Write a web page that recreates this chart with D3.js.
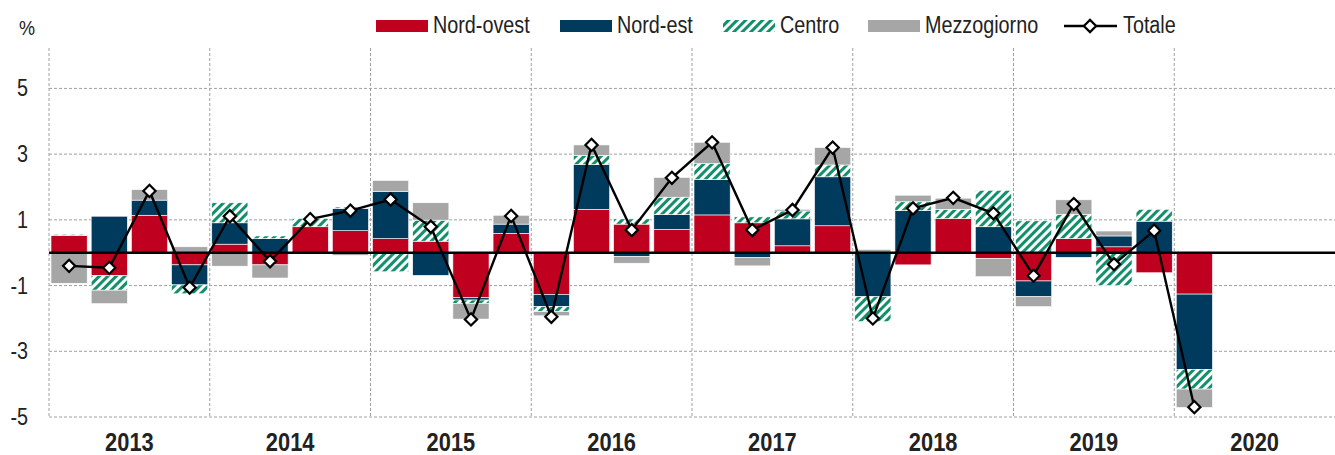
<!DOCTYPE html>
<html>
<head>
<meta charset="utf-8">
<script src="https://cdn.jsdelivr.net/npm/d3@7"></script>
<style>
    body { margin: 0; background: #fff; }
    #chart text { font-family: "Liberation Sans Narrow", "Arial Narrow", "Liberation Sans", sans-serif; fill: #222; }
</style>
</head>
<body>
<div id="chart"></div>
<script>
// quarters 2013Q1 .. 2020Q1
var years = ["2013", "2014", "2015", "2016", "2017", "2018", "2019", "2020"];
var quarters = ["2013Q1","2013Q2","2013Q3","2013Q4","2014Q1","2014Q2","2014Q3","2014Q4",
    "2015Q1","2015Q2","2015Q3","2015Q4","2016Q1","2016Q2","2016Q3","2016Q4",
    "2017Q1","2017Q2","2017Q3","2017Q4","2018Q1","2018Q2","2018Q3","2018Q4",
    "2019Q1","2019Q2","2019Q3","2019Q4","2020Q1"];
var nordOvest = [0.53, -0.70, 1.14, -0.37, 0.26, -0.37, 0.79, 0.67, 0.43, 0.35, -1.37, 0.59, -1.27, 1.32, 0.87, 0.71,
    1.15, 0.91, 0.21, 0.82, 0.00, -0.37, 1.04, -0.17, -0.86, 0.43, 0.18, -0.61, -1.26];
var nordEst = [0.00, 1.11, 0.46, -0.61, 0.65, 0.43, 0.00, 0.68, 1.44, -0.69, -0.07, 0.28, -0.37, 1.37, -0.12, 0.45,
    1.08, -0.14, 0.82, 1.49, -1.34, 1.28, 0.00, 0.79, -0.48, -0.14, 0.33, 0.96, -2.29];
var centro = [0.03, -0.44, 0.00, -0.27, 0.61, 0.08, 0.25, 0.04, -0.58, 0.64, -0.10, 0.00, -0.15, 0.27, 0.16, 0.53,
    0.48, 0.18, 0.24, 0.36, -0.76, 0.27, 0.28, 1.11, 0.97, 0.74, -1.00, 0.36, -0.60];
var mezzogiorno = [-0.93, -0.41, 0.32, 0.18, -0.41, -0.40, 0.00, -0.08, 0.33, 0.53, -0.48, 0.27, -0.13, 0.32, -0.20, 0.60,
    0.65, -0.26, 0.05, 0.53, 0.10, 0.20, 0.34, -0.56, -0.30, 0.44, 0.15, 0.00, -0.56];
var totale = [-0.40, -0.46, 1.88, -1.06, 1.11, -0.26, 1.02, 1.28, 1.62, 0.79, -2.03, 1.12, -1.95, 3.28, 0.69, 2.28,
    3.36, 0.69, 1.30, 3.20, -2.00, 1.35, 1.67, 1.20, -0.70, 1.48, -0.35, 0.67, -4.70];
var yTicks = [5, 3, 1, -1, -3, -5];

var seriesNames = ["Nord-ovest", "Nord-est", "Centro", "Mezzogiorno"];
var seriesColors = { "Nord-ovest": "#c0001f", "Nord-est": "#003a5c", "Centro": "url(#hatch)", "Mezzogiorno": "#a6a6a6" };

visualizeChart();

// text squeezed sideways, since no narrow font is around
function narrowText(g, x, y, str, size, anchor, bold, sx) {
    return g.append("text")
        .attr("transform", "translate(" + x + "," + y + ") scale(" + (sx || 0.86) + ",1)")
        .attr("text-anchor", anchor)
        .style("font-size", size + "px")
        .style("font-weight", bold ? "bold" : "normal")
        .text(str);
}

function visualizeChart() {
    var width = 1335, height = 455;
    var left = 49, right = 1335, top = 48, bottom = 417;

    var svg = d3.select("#chart").append("svg")
        .attr("width", width)
        .attr("height", height);

    // hatch for Centro
    var pat = svg.append("defs").append("pattern")
        .attr("id", "hatch")
        .attr("patternUnits", "userSpaceOnUse")
        .attr("width", 6).attr("height", 6)
        .attr("patternTransform", "rotate(45)");
    pat.append("rect").attr("width", 6).attr("height", 6).attr("fill", "#fff");
    pat.append("rect").attr("width", 3).attr("height", 6).attr("fill", "#12906a");

    // all slots of the years, 2020 only has Q1 filled
    var slots = [];
    years.forEach(function (y) { for (var q = 1; q <= 4; q++) slots.push(y + "Q" + q); });

    var x = d3.scaleBand()
        .domain(slots)
        .range([left, right])
        .paddingInner(0.1)
        .paddingOuter(0.05);

    var xYear = d3.scaleBand()
        .domain(years)
        .range([left, right]);

    var y = d3.scaleLinear()
        .domain([-5, 6.23])
        .range([bottom, top]);

    // grid
    svg.append("g").selectAll("line")
        .data(yTicks)
        .enter().append("line")
        .attr("x1", left).attr("x2", right)
        .attr("y1", function (d) { return y(d); })
        .attr("y2", function (d) { return y(d); })
        .attr("stroke", "#a0a0a0")
        .attr("stroke-dasharray", "3,2");

    svg.append("g").selectAll("line")
        .data(years)
        .enter().append("line")
        .attr("x1", function (d) { return xYear(d); })
        .attr("x2", function (d) { return xYear(d); })
        .attr("y1", top).attr("y2", bottom)
        .attr("stroke", "#a0a0a0")
        .attr("stroke-dasharray", "3,2");

    // y labels
    var yLab = svg.append("g");
    yTicks.forEach(function (d) {
        narrowText(yLab, 28, y(d) + 8, d, 23, "end", false);
    });
    narrowText(svg, 19, 35, "%", 21, "start", false);

    // year labels
    var xLab = svg.append("g");
    years.forEach(function (d) {
        narrowText(xLab, xYear(d) + xYear.bandwidth() / 2, 451, d, 26, "middle", true, 0.84);
    });

    // stacked bars
    var table = quarters.map(function (q, i) {
        return { q: q, "Nord-ovest": nordOvest[i], "Nord-est": nordEst[i], "Centro": centro[i], "Mezzogiorno": mezzogiorno[i] };
    });
    var stacked = d3.stack()
        .keys(seriesNames)
        .offset(d3.stackOffsetDiverging)(table);

    svg.append("g").selectAll("g")
        .data(stacked)
        .enter().append("g")
        .attr("fill", function (d) { return seriesColors[d.key]; })
        .selectAll("rect")
        .data(function (d) { return d; })
        .enter().append("rect")
        .attr("x", function (d) { return x(d.data.q); })
        .attr("width", x.bandwidth())
        .attr("y", function (d) { return y(Math.max(d[0], d[1])); })
        .attr("height", function (d) { return Math.abs(y(d[0]) - y(d[1])); })
        .attr("stroke", "#fff")
        .attr("stroke-width", 0.6);

    // zero line
    svg.append("line")
        .attr("x1", left).attr("x2", right)
        .attr("y1", y(0)).attr("y2", y(0))
        .attr("stroke", "#000")
        .attr("stroke-width", 2.5);

    // totale
    var line = d3.line()
        .x(function (d, i) { return x(quarters[i]) + x.bandwidth() / 2; })
        .y(function (d) { return y(d); });

    svg.append("path")
        .datum(totale)
        .attr("d", line)
        .attr("fill", "none")
        .attr("stroke", "#000")
        .attr("stroke-width", 2.4);

    var diamond = d3.symbol().type(d3.symbolDiamond2).size(95);
    svg.append("g").selectAll("path")
        .data(totale)
        .enter().append("path")
        .attr("d", diamond)
        .attr("transform", function (d, i) {
            return "translate(" + (x(quarters[i]) + x.bandwidth() / 2) + "," + y(d) + ")";
        })
        .attr("fill", "#fff")
        .attr("stroke", "#000")
        .attr("stroke-width", 2.2);

    // legend
    var legendItems = [
        { name: "Nord-ovest", x: 376 },
        { name: "Nord-est", x: 560 },
        { name: "Centro", x: 723 },
        { name: "Mezzogiorno", x: 868 }
    ];
    var legend = svg.append("g");
    legendItems.forEach(function (item) {
        legend.append("rect")
            .attr("x", item.x).attr("y", 20)
            .attr("width", 52).attr("height", 12)
            .attr("fill", seriesColors[item.name]);
        narrowText(legend, item.x + 57, 33, item.name, 23, "start", false);
    });
    legend.append("line")
        .attr("x1", 1064).attr("x2", 1117)
        .attr("y1", 26).attr("y2", 26)
        .attr("stroke", "#000").attr("stroke-width", 2.4);
    legend.append("path")
        .attr("d", diamond)
        .attr("transform", "translate(1090,26)")
        .attr("fill", "#fff").attr("stroke", "#000").attr("stroke-width", 2.2);
    narrowText(legend, 1123, 33, "Totale", 23, "start", false);
}
</script>
</body>
</html>
